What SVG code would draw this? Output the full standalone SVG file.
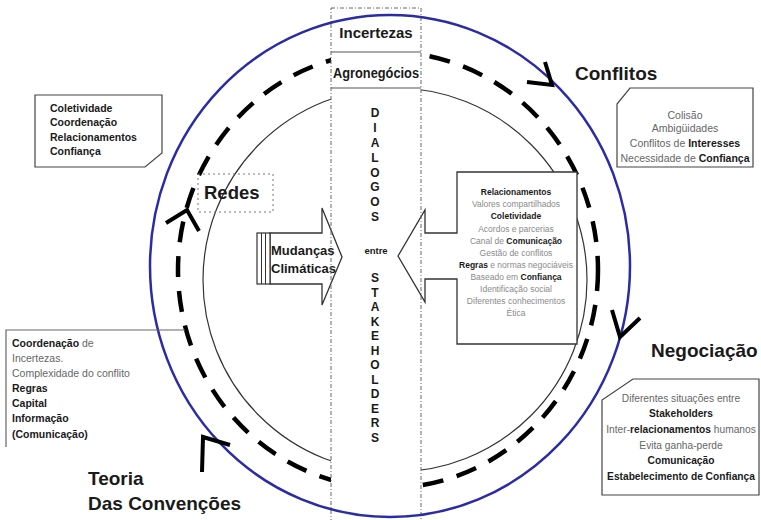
<svg xmlns="http://www.w3.org/2000/svg" width="761" height="520" viewBox="0 0 761 520">
<style>
text{font-family:"Liberation Sans",Arial,sans-serif;fill:#1a1a1a}
.b{font-weight:bold}
.g{fill:#666}
.lg{fill:#8a8a8a}
.box{fill:#fff;stroke:#444;stroke-width:1.2}
.chev{fill:none;stroke:#000;stroke-width:4}
.lbl{font-size:19px;font-weight:bold}
.col{font-size:12px;font-weight:bold;text-anchor:middle}
</style>
<rect width="761" height="520" fill="#fff"/>
<g id="circles">
<ellipse id="inner-circle" cx="395" cy="280" rx="192" ry="192" fill="none" stroke="#333" stroke-width="1.2"/>
<ellipse id="dashed-circle" cx="388" cy="270" rx="210" ry="218" fill="none" stroke="#000" stroke-width="4.5" stroke-dasharray="21 14"/>
</g>
<rect x="331" y="8" width="90" height="512" fill="#fff"/>
<g id="mudancas">
<path d="M270,233 H322 V208 L342,257 L322,305 V284 H270 Z" fill="#fff" stroke="#333" stroke-width="1.3"/>
<rect x="257" y="233" width="13" height="51" fill="#fff" stroke="#333" stroke-width="1.2"/>
<line x1="261.5" y1="233" x2="261.5" y2="284" stroke="#333" stroke-width="1"/>
<line x1="265.5" y1="233" x2="265.5" y2="284" stroke="#333" stroke-width="1"/>
<text x="271" y="255" class="b" font-size="13">Mudanças</text>
<text x="271" y="273" class="b" font-size="13">Climáticas</text>
</g>
<g id="relacionamentos">
<path d="M398,256 L425,210 V233 H457 V172 H577 V344 H457 V279 H425 V302 Z" fill="#fff" stroke="#333" stroke-width="1.3"/>
<g font-size="8.5" text-anchor="middle">
<text x="516" y="195" class="b">Relacionamentos</text>
<text x="516" y="207" class="lg">Valores compartilhados</text>
<text x="516" y="219" class="b">Coletividade</text>
<text x="516" y="232" class="lg">Acordos e parcerias</text>
<text x="516" y="244" class="lg">Canal de <tspan class="b" fill="#1a1a1a">Comunicação</tspan></text>
<text x="516" y="256" class="lg">Gestão de conflitos</text>
<text x="516" y="268" class="lg"><tspan class="b" fill="#1a1a1a">Regras</tspan> e normas negociáveis</text>
<text x="516" y="280" class="lg">Baseado em <tspan class="b" fill="#1a1a1a">Confiança</tspan></text>
<text x="516" y="292" class="lg">Identificação social</text>
<text x="516" y="304" class="lg">Diferentes conhecimentos</text>
<text x="516" y="316" class="lg">Ética</text>
</g>
</g>
<g id="coluna">
<rect x="331" y="8" width="90" height="514" fill="none" stroke="#666" stroke-width="1" stroke-dasharray="4 2 1 2"/>
<line x1="331" y1="52" x2="421" y2="52" stroke="#555" stroke-width="1.2"/>
<line x1="331" y1="88" x2="421" y2="88" stroke="#555" stroke-width="1.2"/>
<text x="376" y="38" class="b" font-size="15" text-anchor="middle">Incertezas</text>
<text x="376" y="78" class="b" font-size="14" text-anchor="middle" textLength="86" lengthAdjust="spacingAndGlyphs">Agronegócios</text>
<text x="375" y="117" class="col">D</text>
<text x="375" y="132" class="col">I</text>
<text x="375" y="147" class="col">A</text>
<text x="375" y="162" class="col">L</text>
<text x="375" y="177" class="col">O</text>
<text x="375" y="191" class="col">G</text>
<text x="375" y="206" class="col">O</text>
<text x="375" y="221" class="col">S</text>
<text x="376" y="254" class="b" font-size="9.5" text-anchor="middle">entre</text>
<text x="375" y="282" class="col">S</text>
<text x="375" y="296.5" class="col">T</text>
<text x="375" y="311" class="col">A</text>
<text x="375" y="325.5" class="col">K</text>
<text x="375" y="340" class="col">E</text>
<text x="375" y="354.5" class="col">H</text>
<text x="375" y="369" class="col">O</text>
<text x="375" y="383.5" class="col">L</text>
<text x="375" y="398" class="col">D</text>
<text x="375" y="412.5" class="col">E</text>
<text x="375" y="427" class="col">R</text>
<text x="375" y="441.5" class="col">S</text>
</g>
<ellipse id="blue-circle" cx="390" cy="266" rx="240" ry="251" fill="none" stroke="#2b2ba6" stroke-width="2.5"/>
<g id="connectors">
<polyline class="chev" points="545,62 552,85 527,82"/>
<polyline class="chev" points="612,310 620,337 640,318"/>
<polyline class="chev" points="202,472 203,437 230,445"/>
<polyline class="chev" points="166,223 187,210 199,231"/>
</g>
<g id="redes">
<rect x="198" y="174" width="75" height="38" fill="none" stroke="#777" stroke-width="1" stroke-dasharray="2 3"/>
<text x="204" y="199" class="b" font-size="18.5">Redes</text>
</g>
<g id="box-redes">
<path class="box" d="M35,95 H162 V153 L145,167 H35 Z"/>
<g class="b" font-size="10.5">
<text x="50" y="112">Coletividade</text>
<text x="50" y="126">Coordenação</text>
<text x="50" y="141">Relacionamentos</text>
<text x="50" y="155">Confiança</text>
</g>
</g>
<g id="conflitos">
<text x="575" y="80" class="lbl">Conflitos</text>
<path class="box" d="M630,88 H753 V167 H617 V104 Z"/>
<g font-size="10.5" text-anchor="middle" class="g">
<text x="685" y="119" class="g">Colisão</text>
<text x="685" y="132" class="g">Ambigüidades</text>
<text x="685" y="147" class="g">Conflitos de <tspan class="b" fill="#1a1a1a">Interesses</tspan></text>
<text x="685" y="162" class="g">Necessidade de <tspan class="b" fill="#1a1a1a">Confiança</tspan></text>
</g>
</g>
<g id="negociacao">
<text x="651" y="357" class="lbl" font-size="19.5">Negociação</text>
<path class="box" d="M633,379 H759 V495 H602 V400 Z"/>
<g font-size="10.2" text-anchor="middle">
<text x="681" y="402" class="g">Diferentes situações entre</text>
<text x="681" y="417" class="b">Stakeholders</text>
<text x="681" y="433" class="g">Inter-<tspan class="b" fill="#1a1a1a">relacionamentos</tspan> humanos</text>
<text x="681" y="449" class="g">Evita ganha-perde</text>
<text x="681" y="464" class="b">Comunicação</text>
<text x="681" y="480" class="b">Estabelecimento de Confiança</text>
</g>
</g>
<g id="teoria">
<polyline points="185,330 6,330 6,447" fill="none" stroke="#666" stroke-width="1.2"/>
<g font-size="10.5">
<text x="12" y="347"><tspan class="b">Coordenação</tspan><tspan class="g"> de</tspan></text>
<text x="12" y="362" class="g">Incertezas.</text>
<text x="12" y="377" class="g">Complexidade do conflito</text>
<text x="12" y="392" class="b">Regras</text>
<text x="12" y="407" class="b">Capital</text>
<text x="12" y="422" class="b">Informação</text>
<text x="12" y="438" class="b">(Comunicação)</text>
</g>
<text x="88" y="485" class="lbl">Teoria</text>
<text x="88" y="510" class="lbl">Das Convenções</text>
</g>
</svg>
